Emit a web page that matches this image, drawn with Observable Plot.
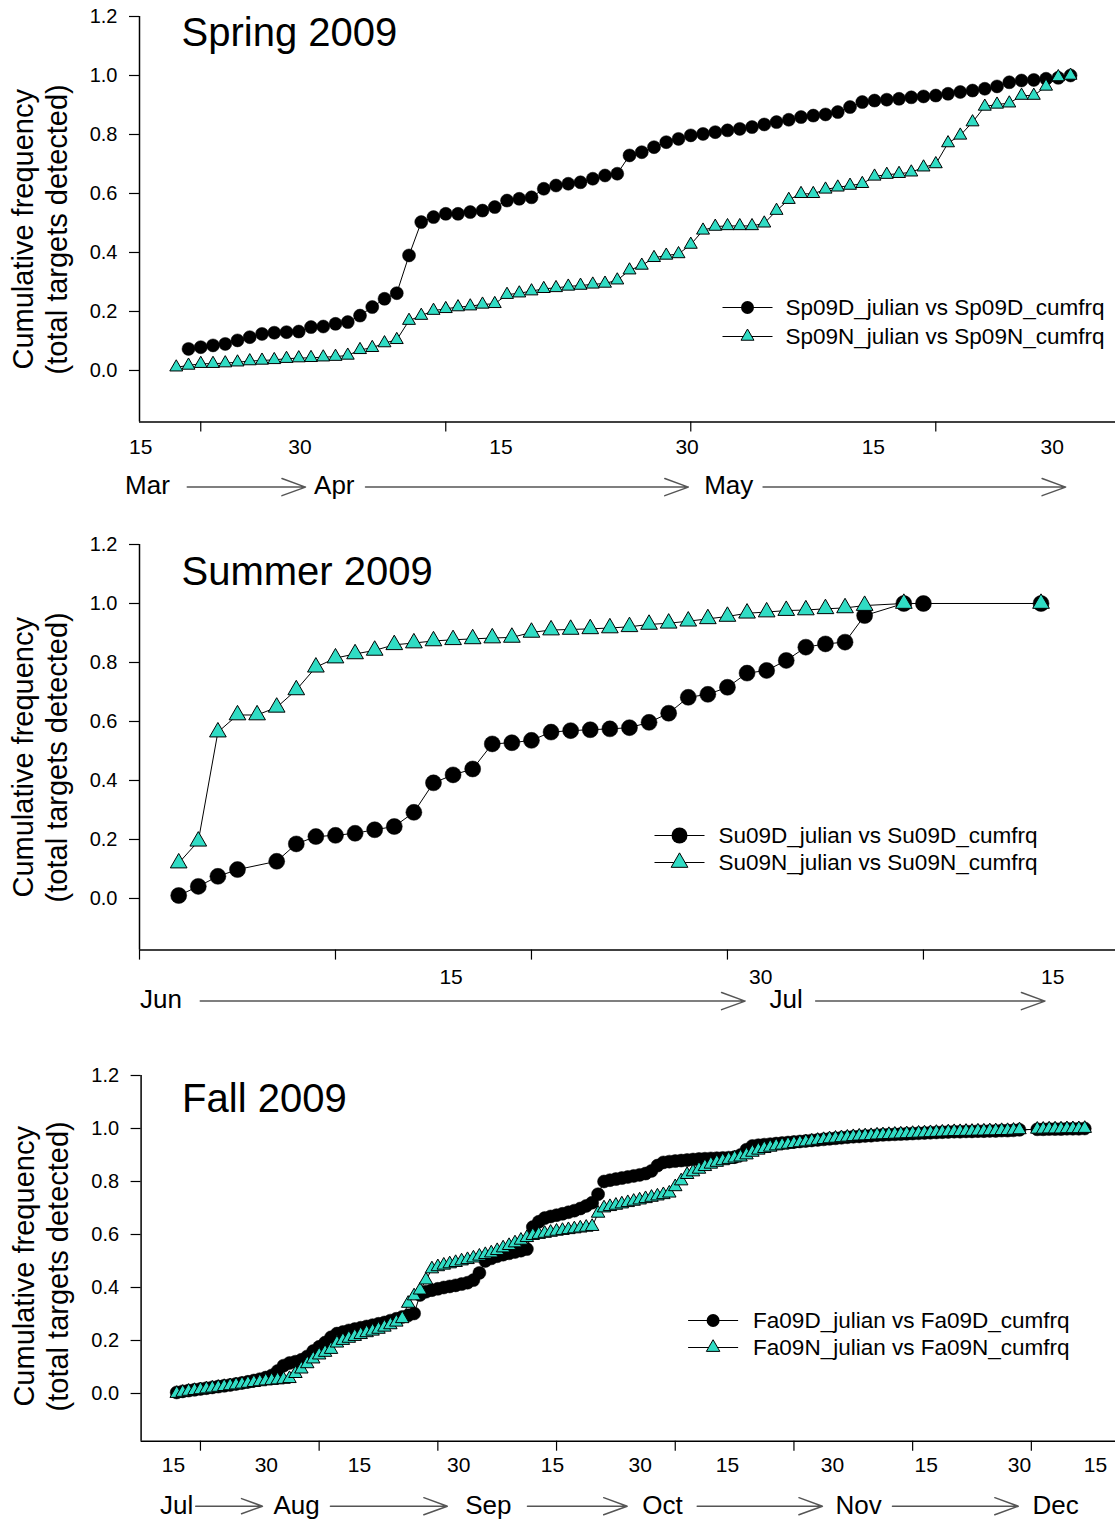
<!DOCTYPE html>
<html>
<head>
<meta charset="utf-8">
<script src="https://cdn.jsdelivr.net/npm/d3@7"></script>
<script src="https://cdn.jsdelivr.net/npm/@observablehq/plot@0.6"></script>
<style>
  body { margin: 0; background: #fff; }
  #chart { width: 1115px; }
  #chart svg { display: block; }
</style>
</head>
<body>
<div id="chart"></div>
<script>
// ---------------- DATA ----------------
const yTicks = [0, 0.2, 0.4, 0.6, 0.8, 1.0, 1.2];
const yLabel = "Cumulative frequency\n(total targets detected)";

// Spring 2009 (julian day, cumulative frequency)
const sp09DDays = [79,80,81,82,83,84,85,86,87,88,89,90,91,92,93,94,95,96,97,98,99,100,101,102,103,104,105,106,107,108,109,110,111,112,113,114,115,116,117,118,119,120,121,122,123,124,125,126,127,128,129,130,131,132,133,134,135,136,137,138,139,140,141,142,143,144,145,146,147,148,149,150,151];
const sp09DCum = [0.073,0.079,0.085,0.090,0.102,0.113,0.124,0.128,0.130,0.132,0.147,0.149,0.158,0.164,0.186,0.215,0.243,0.262,0.390,0.503,0.520,0.531,0.531,0.537,0.542,0.554,0.576,0.582,0.587,0.616,0.627,0.633,0.638,0.650,0.661,0.667,0.729,0.740,0.757,0.774,0.785,0.797,0.802,0.808,0.814,0.819,0.825,0.834,0.842,0.850,0.859,0.864,0.868,0.876,0.893,0.910,0.915,0.918,0.921,0.926,0.929,0.932,0.938,0.944,0.949,0.955,0.963,0.977,0.983,0.985,0.989,0.992,1.000];
const sp09NDays = [78,79,80,81,82,83,84,85,86,87,88,89,90,91,92,93,94,95,96,97,98,99,100,101,102,103,104,105,106,107,108,109,110,111,112,113,114,115,116,117,118,119,120,121,122,123,124,125,126,127,128,129,130,131,132,133,134,135,136,137,138,139,140,141,142,143,144,145,146,147,148,149,150,151];
const sp09NCum = [0.011,0.017,0.023,0.023,0.025,0.028,0.032,0.034,0.036,0.040,0.042,0.043,0.045,0.047,0.051,0.070,0.077,0.093,0.104,0.169,0.186,0.203,0.209,0.215,0.218,0.224,0.226,0.257,0.262,0.269,0.277,0.280,0.285,0.288,0.292,0.295,0.306,0.340,0.356,0.382,0.390,0.395,0.427,0.475,0.488,0.490,0.490,0.490,0.499,0.542,0.579,0.599,0.599,0.614,0.621,0.627,0.633,0.658,0.664,0.667,0.672,0.689,0.700,0.771,0.797,0.842,0.895,0.902,0.906,0.932,0.932,0.963,0.995,1.000];

// Summer 2009
const su09DDays = [152,153,154,155,157,158,159,160,161,162,163,164,165,166,167,168,169,170,171,172,173,174,175,176,177,178,179,180,181,182,183,184,185,186,187,189,190,196];
const su09DCum = [0.010,0.041,0.075,0.098,0.126,0.185,0.210,0.214,0.221,0.233,0.244,0.292,0.392,0.419,0.439,0.524,0.528,0.536,0.564,0.569,0.572,0.575,0.579,0.597,0.628,0.682,0.692,0.716,0.764,0.773,0.807,0.852,0.863,0.869,0.959,1.000,1.000,1.000];
const su09NDays = [152,153,154,155,156,157,158,159,160,161,162,163,164,165,166,167,168,169,170,171,172,173,174,175,176,177,178,179,180,181,182,183,184,185,186,187,189,196];
const su09NCum = [0.120,0.194,0.564,0.622,0.622,0.648,0.707,0.784,0.815,0.829,0.841,0.860,0.866,0.873,0.877,0.880,0.883,0.885,0.902,0.910,0.912,0.914,0.917,0.921,0.929,0.933,0.940,0.948,0.956,0.967,0.971,0.976,0.978,0.982,0.985,0.993,1.000,1.000];

// Fall 2009
const fa09DDays = [196,197,198,199,200,201,202,203,204,205,206,207,208,209,210,211,212,213,214,215,216,217,218,219,220,221,222,223,224,225,226,227,228,229,230,231,232,233,234,235,236,237,238,239,240,241,242,243,244,245,246,247,248,249,250,251,252,253,254,255,256,257,258,259,260,261,262,263,264,265,266,267,268,269,270,271,272,273,274,275,276,277,278,279,280,281,282,283,284,285,286,287,288,289,290,291,292,293,294,295,296,297,298,299,300,301,302,303,304,305,306,307,308,309,310,311,312,313,314,315,316,317,318,319,320,321,322,323,324,325,326,327,328,329,330,331,332,333,334,335,336,337,338,341,342,343,344,345,346,347,348,349];
const fa09DCum = [0.004,0.008,0.011,0.014,0.017,0.020,0.023,0.026,0.029,0.032,0.036,0.040,0.044,0.049,0.054,0.060,0.068,0.085,0.105,0.115,0.120,0.127,0.140,0.160,0.176,0.192,0.212,0.226,0.232,0.238,0.243,0.248,0.253,0.258,0.263,0.268,0.275,0.282,0.289,0.295,0.302,0.372,0.384,0.390,0.395,0.400,0.404,0.408,0.413,0.418,0.428,0.455,0.500,0.510,0.518,0.524,0.529,0.534,0.539,0.545,0.628,0.648,0.662,0.668,0.673,0.678,0.684,0.690,0.698,0.708,0.720,0.752,0.800,0.805,0.809,0.813,0.817,0.821,0.825,0.830,0.840,0.860,0.872,0.875,0.877,0.879,0.881,0.883,0.885,0.886,0.887,0.888,0.889,0.890,0.892,0.900,0.920,0.934,0.937,0.939,0.941,0.943,0.945,0.947,0.949,0.951,0.953,0.955,0.957,0.959,0.961,0.963,0.965,0.967,0.969,0.970,0.972,0.973,0.975,0.976,0.977,0.978,0.979,0.980,0.981,0.982,0.983,0.984,0.985,0.986,0.987,0.988,0.988,0.989,0.989,0.990,0.990,0.991,0.991,0.992,0.992,0.993,0.995,0.997,0.997,0.998,0.998,0.998,0.999,0.999,0.999,1.000];
const fa09NDays = fa09DDays.slice();
const fa09NCum = [0.000,0.004,0.008,0.011,0.014,0.017,0.020,0.023,0.026,0.029,0.032,0.035,0.038,0.041,0.044,0.047,0.049,0.051,0.053,0.056,0.075,0.092,0.112,0.130,0.145,0.155,0.166,0.190,0.200,0.208,0.215,0.222,0.229,0.235,0.242,0.250,0.259,0.269,0.282,0.340,0.368,0.390,0.428,0.470,0.478,0.484,0.489,0.494,0.500,0.505,0.511,0.518,0.524,0.530,0.539,0.549,0.558,0.568,0.578,0.588,0.596,0.600,0.604,0.608,0.612,0.615,0.618,0.621,0.624,0.627,0.630,0.680,0.700,0.705,0.710,0.715,0.720,0.725,0.730,0.735,0.740,0.745,0.750,0.756,0.780,0.802,0.826,0.836,0.846,0.856,0.865,0.872,0.878,0.883,0.888,0.892,0.900,0.910,0.918,0.924,0.929,0.934,0.937,0.940,0.943,0.946,0.949,0.952,0.955,0.958,0.961,0.963,0.965,0.967,0.969,0.971,0.972,0.973,0.975,0.976,0.977,0.978,0.979,0.980,0.981,0.982,0.983,0.984,0.985,0.986,0.987,0.988,0.988,0.989,0.989,0.990,0.990,0.991,0.991,0.992,0.992,0.993,0.995,0.997,0.997,0.998,0.998,0.998,0.999,0.999,0.999,1.000];

// Axis ticks, date labels, months and arrows (julian days)
const spXTicks = [80, 100, 120, 140];
const spDayLabelDays = [75.1, 88.1, 104.5, 119.7, 134.9, 149.5];
const spDayLabelText = ["15", "30", "15", "30", "15", "30"];
const spMonthDays = [75.65, 90.9, 123.1];
const spMonthText = ["Mar", "Apr", "May"];
const spArrowFrom = [78.9, 93.45, 125.9];
const spArrowTo = [88.55, 119.8, 150.6];
const spLegend = ["Sp09D_julian vs Sp09D_cumfrq", "Sp09N_julian vs Sp09N_cumfrq"];

const suXTicks = [150, 160, 170, 180, 190];
const suDayLabelDays = [165.9, 181.7, 196.6];
const suDayLabelText = ["15", "30", "15"];
const suMonthDays = [151.1, 183.0];
const suMonthText = ["Jun", "Jul"];
const suArrowFrom = [153.1, 184.5];
const suArrowTo = [180.9, 196.2];
const suLegend = ["Su09D_julian vs Su09D_cumfrq", "Su09N_julian vs Su09N_cumfrq"];

const faXTicks = [200, 220, 240, 260, 280, 300, 320, 340];
const faDayLabelDays = [195.45, 211.1, 226.8, 243.5, 259.3, 274.1, 288.8, 306.5, 322.3, 338.0, 350.8];
const faDayLabelText = ["15", "30", "15", "30", "15", "30", "15", "30", "15", "30", "15"];
const faMonthDays = [196.0, 216.2, 248.5, 277.85, 310.9, 344.1];
const faMonthText = ["Jul", "Aug", "Sep", "Oct", "Nov", "Dec"];
const faArrowFrom = [199.2, 221.9, 255.1, 283.7, 316.6];
const faArrowTo = [210.45, 241.6, 271.9, 304.8, 337.8];
const faLegend = ["Fa09D_julian vs Fa09D_cumfrq", "Fa09N_julian vs Fa09N_cumfrq"];

// ---------------- DRAWING ----------------
const cyan = "#30dcc4";
const FONT = '"Liberation Sans", Arial, Helvetica, sans-serif';
const lineSymbol = { draw(ctx) { ctx.moveTo(-25, 0); ctx.lineTo(25, 0); } };

function zip(a, b, ka, kb) { return a.map((v, i) => ({ [ka]: v, [kb]: b[i] })); }

function makePanel(p) {
  const D = zip(p.dDays, p.dCum, "day", "cum");
  const N = zip(p.nDays, p.nCum, "day", "cum");
  const dayLabels = zip(p.dayLabelDays, p.dayLabelText, "day", "label");
  const months = zip(p.monthDays, p.monthText, "day", "label");
  const arrows = zip(p.arrowFrom, p.arrowTo, "from", "to");
  const yMin = p.yDomain[0];
  const L = p.legendPos;
  return Plot.plot({
    width: 1115,
    height: p.height,
    marginLeft: p.marginLeft,
    marginRight: 0,
    marginTop: p.marginTop,
    marginBottom: p.marginBottom,
    style: { fontFamily: FONT, fontSize: "20px", color: "black", background: "white", overflow: "visible" },
    x: { domain: p.xDomain },
    y: { domain: p.yDomain },
    marks: [
      Plot.ruleY([yMin], { strokeWidth: 1.5 }),
      Plot.ruleX([p.xDomain[0]], { strokeWidth: 1.5 }),
      Plot.axisY(yTicks, { tickSize: 10, tickPadding: 12, tickFormat: d3.format(".1f"), fontSize: 20, label: null, strokeWidth: 1.2 }),
      Plot.axisX(p.xTicks, { tickSize: 10, tickFormat: () => "", label: null, strokeWidth: 1.2 }),
      Plot.text(dayLabels, { x: "day", text: "label", frameAnchor: "bottom", dy: p.dayDy, fontSize: 21, lineAnchor: "middle" }),
      Plot.text(months, { x: "day", text: "label", frameAnchor: "bottom", dy: p.monthDy, fontSize: 26, lineAnchor: "middle" }),
      Plot.arrow(arrows, { x1: "from", x2: "to", y1: yMin, y2: yMin, dy: p.monthDy + 1, stroke: "#555", strokeWidth: 1.5, headLength: 25, headAngle: 40 }),
      Plot.text([p.title], { frameAnchor: "top-left", text: d => d, dx: p.titleDx, dy: p.titleDy, fontSize: 40, textAnchor: "start", lineAnchor: "bottom" }),
      Plot.text([yLabel], { frameAnchor: "left", text: d => d, rotate: -90, dx: p.yLabelDx, dy: p.yLabelDy, fontSize: 29, lineHeight: 1.17, lineAnchor: "middle", textAnchor: "middle" }),
      // series
      Plot.line(D, { x: "day", y: "cum", stroke: "black", strokeWidth: 1 }),
      Plot.dot(D, { x: "day", y: "cum", r: p.rDot, fill: "black", stroke: "black", strokeWidth: 0.5 }),
      Plot.line(N, { x: "day", y: "cum", stroke: "black", strokeWidth: 1 }),
      Plot.dot(N, { x: "day", y: "cum", symbol: "triangle", r: p.rTri, fill: cyan, stroke: "black", strokeWidth: 1 }),
      // legend
      Plot.dot([0], { frameAnchor: "top-left", dx: L.mx, dy: L.y1, symbol: lineSymbol, fill: "none", stroke: "black", strokeWidth: 1.2 }),
      Plot.dot([0], { frameAnchor: "top-left", dx: L.mx, dy: L.y1, r: p.rDot, fill: "black" }),
      Plot.dot([0], { frameAnchor: "top-left", dx: L.mx, dy: L.y2, symbol: lineSymbol, fill: "none", stroke: "black", strokeWidth: 1.2 }),
      Plot.dot([0], { frameAnchor: "top-left", dx: L.mx, dy: L.y2, symbol: "triangle", r: p.rTri, fill: cyan, stroke: "black", strokeWidth: 1 }),
      Plot.text([p.legend[0]], { frameAnchor: "top-left", text: d => d, dx: L.tx, dy: L.y1, fontSize: 22.5, textAnchor: "start", lineAnchor: "middle" }),
      Plot.text([p.legend[1]], { frameAnchor: "top-left", text: d => d, dx: L.tx, dy: L.y2, fontSize: 22.5, textAnchor: "start", lineAnchor: "middle" })
    ]
  });
}

const chart = document.getElementById("chart");

chart.appendChild(makePanel({
  dDays: sp09DDays, dCum: sp09DCum, nDays: sp09NDays, nCum: sp09NCum,
  xDomain: [75, 154.67], yDomain: [-0.175, 1.2],
  height: 528, marginLeft: 139, marginTop: 16, marginBottom: 106.4,
  xTicks: spXTicks,
  dayLabelDays: spDayLabelDays, dayLabelText: spDayLabelText, dayDy: 25.5,
  monthDays: spMonthDays, monthText: spMonthText, monthDy: 64,
  arrowFrom: spArrowFrom, arrowTo: spArrowTo,
  title: "Spring 2009", titleDx: 42, titleDy: 29,
  yLabelDx: -100, yLabelDy: 10,
  rDot: 6.5, rTri: 4.8,
  legend: spLegend, legendPos: { mx: 608, tx: 646, y1: 291, y2: 320 }
}));

chart.appendChild(makePanel({
  dDays: su09DDays, dCum: su09DCum, nDays: su09NDays, nCum: su09NCum,
  xDomain: [150, 199.8], yDomain: [-0.175, 1.2],
  height: 528, marginLeft: 139, marginTop: 16, marginBottom: 106.4,
  xTicks: suXTicks,
  dayLabelDays: suDayLabelDays, dayLabelText: suDayLabelText, dayDy: 27,
  monthDays: suMonthDays, monthText: suMonthText, monthDy: 50,
  arrowFrom: suArrowFrom, arrowTo: suArrowTo,
  title: "Summer 2009", titleDx: 42, titleDy: 40,
  yLabelDx: -100, yLabelDy: 10,
  rDot: 8, rTri: 6.2,
  legend: suLegend, legendPos: { mx: 540, tx: 579, y1: 291, y2: 318 }
}));

chart.appendChild(makePanel({
  dDays: fa09DDays, dCum: fa09DCum, nDays: fa09NDays, nCum: fa09NCum,
  xDomain: [190, 354.18], yDomain: [-0.18, 1.2],
  height: 467, marginLeft: 140.6, marginTop: 19, marginBottom: 82.3,
  xTicks: faXTicks,
  dayLabelDays: faDayLabelDays, dayLabelText: faDayLabelText, dayDy: 24,
  monthDays: faMonthDays, monthText: faMonthText, monthDy: 64,
  arrowFrom: faArrowFrom, arrowTo: faArrowTo,
  title: "Fall 2009", titleDx: 41, titleDy: 36,
  yLabelDx: -101, yLabelDy: 8,
  rDot: 6.5, rTri: 5,
  legend: faLegend, legendPos: { mx: 572, tx: 612, y1: 245, y2: 272 }
}));
</script>
</body>
</html>
